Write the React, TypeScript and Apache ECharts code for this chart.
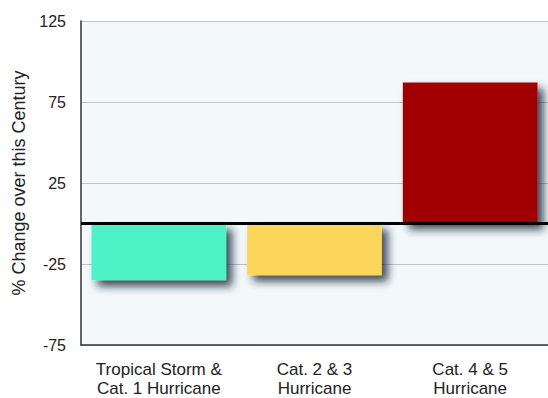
import React, { useEffect, useRef } from "react";
import * as echarts from "echarts";

const categories = ["Tropical Storm &\nCat. 1 Hurricane", "Cat. 2 & 3\nHurricane", "Cat. 4 & 5\nHurricane"];
const values = [-35, -32, 87];
const barColors = ["#4ef3c6", "#fcd65a", "#a00000"];
const yTicks = [-75, -25, 25, 75, 125];

export default function App() {
  const ref = useRef<HTMLDivElement>(null);
  useEffect(() => {
    const chart = echarts.init(ref.current!, undefined, { renderer: "svg" });
    chart.setOption({
      animation: false,
      backgroundColor: "#ffffff",
      grid: {
        left: 81,
        right: -1,
        top: 21,
        bottom: 53,
        show: true,
        backgroundColor: "#f3f8fb",
        borderWidth: 0,
      },
      xAxis: {
        type: "category",
        data: categories,
        position: "bottom",
        axisLine: { show: true, onZero: false, lineStyle: { color: "#333", width: 1.5 } },
        axisTick: { show: false },
        axisLabel: {
          interval: 0,
          hideOverlap: false,
          color: "#222",
          fontFamily: "Liberation Sans",
          fontSize: 17,
          lineHeight: 19,
          margin: 15,
        },
      },
      yAxis: {
        type: "value",
        min: yTicks[0],
        max: yTicks[yTicks.length - 1],
        interval: 50,
        name: "% Change over this Century",
        nameLocation: "middle",
        nameGap: 49,
        nameTextStyle: { color: "#222", fontFamily: "Liberation Sans", fontSize: 18 },
        axisLine: { show: true, lineStyle: { color: "#333", width: 1.5 } },
        axisTick: { show: false },
        axisLabel: { color: "#222", fontFamily: "Liberation Sans", fontSize: 16, margin: 15 },
        splitLine: { show: true, lineStyle: { color: "#bfc4c6", width: 1 } },
      },
      series: [
        {
          type: "bar",
          barCategoryGap: "13.5%",
          data: values.map((v, i) => ({
            value: v,
            itemStyle: {
              color: barColors[i],
              shadowColor: "rgba(10,35,45,0.8)",
              shadowBlur: 8,
              shadowOffsetX: 6,
              shadowOffsetY: 6,
            },
          })),
          markLine: {
            silent: true,
            symbol: "none",
            label: { show: false },
            lineStyle: { color: "#000", width: 3, type: "solid" },
            data: [{ yAxis: 0 }],
          },
        },
      ],
    });
    return () => chart.dispose();
  }, []);
  return (
    <div
      ref={ref}
      style={{ position: "fixed", left: 0, top: 0, width: 548, height: 398 }}
    />
  );
}
